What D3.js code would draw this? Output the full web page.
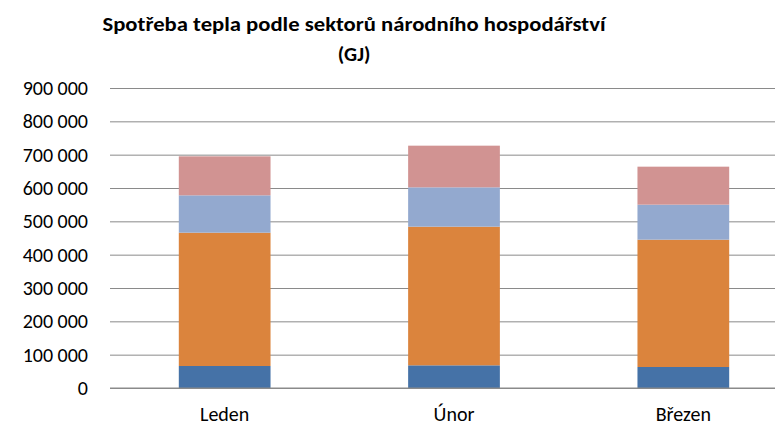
<!DOCTYPE html>
<html>
<head>
<meta charset="utf-8">
<script src="https://cdn.jsdelivr.net/npm/d3@7"></script>
<style>
  body { margin: 0; background: #fff; }
  text { font-family: Carlito, Calibri, Lato, sans-serif; fill: #000; }
  .title { font-weight: bold; }
  .grid line { stroke: #8a8a8a; stroke-width: 1; }
  .grid .domain { display: none; }
</style>
</head>
<body>
<svg id="chart"></svg>
<script>
// months
const categories = ["Leden", "Únor", "Březen"];
// stacked series, bottom to top (GJ)
const series1 = [66000, 68000, 63000];
const series2 = [400000, 416000, 382000];
const series3 = [112000, 118000, 105000];
const series4 = [117000, 125000, 114000];
const yTicks = [0, 100000, 200000, 300000, 400000, 500000, 600000, 700000, 800000, 900000];
const colors = ["#4572A7", "#DB843D", "#93A9CF", "#D19392"];

const W = 775, H = 427;
const margin = { top: 88, right: -23, bottom: 39, left: 110 };
const width = W - margin.left - margin.right;
const height = H - margin.top - margin.bottom;
const fmt = d => d3.format(",")(d).replace(/,/g, " ");

const root = d3.select("#chart").attr("width", W).attr("height", H);
const svg = root.append("g").attr("transform", `translate(${margin.left},${margin.top})`);

const table = categories.map((c, i) => ({ cat: c, s1: series1[i], s2: series2[i], s3: series3[i], s4: series4[i] }));
const stack = d3.stack().keys(["s1", "s2", "s3", "s4"])(table);

const x = d3.scaleBand().domain(categories).range([0, width]).paddingInner(0.6).paddingOuter(0.3);
const y = d3.scaleLinear().domain([0, 900000]).range([height, 0]);

// gridlines
svg.append("g")
    .attr("class", "grid")
    .call(d3.axisLeft(y).tickValues(yTicks).tickSize(-width).tickFormat(""));

// y labels
svg.append("g").selectAll("text")
    .data(yTicks)
    .join("text")
    .attr("x", -22)
    .attr("y", d => y(d))
    .attr("dy", "0.35em")
    .attr("text-anchor", "end")
    .style("font-size", "20px")
    .text(fmt);

// bars
svg.append("g").selectAll("g")
    .data(stack)
    .join("g")
    .attr("fill", (d, i) => colors[i])
    .selectAll("rect")
    .data(d => d)
    .join("rect")
    .attr("x", d => x(d.data.cat))
    .attr("y", d => y(d[1]))
    .attr("width", x.bandwidth())
    .attr("height", d => y(d[0]) - y(d[1]));

// baseline
svg.append("line")
    .attr("x1", 0).attr("x2", width)
    .attr("y1", y(0)).attr("y2", y(0))
    .attr("stroke", "#8a8a8a");

// x labels
svg.append("g").selectAll("text")
    .data(categories)
    .join("text")
    .attr("x", d => x(d) + x.bandwidth() / 2)
    .attr("y", height + 33)
    .attr("text-anchor", "middle")
    .style("font-size", "20px")
    .text(d => d);

// title
const title = root.append("text")
    .attr("class", "title")
    .attr("x", 354)
    .attr("y", 31)
    .attr("text-anchor", "middle")
    .style("font-size", "20.5px");
title.append("tspan").attr("x", 354)
    .attr("textLength", 503).attr("lengthAdjust", "spacingAndGlyphs")
    .text("Spotřeba tepla podle sektorů národního hospodářství");
title.append("tspan").attr("x", 354).attr("dy", 30).text("(GJ)");
</script>
</body>
</html>
